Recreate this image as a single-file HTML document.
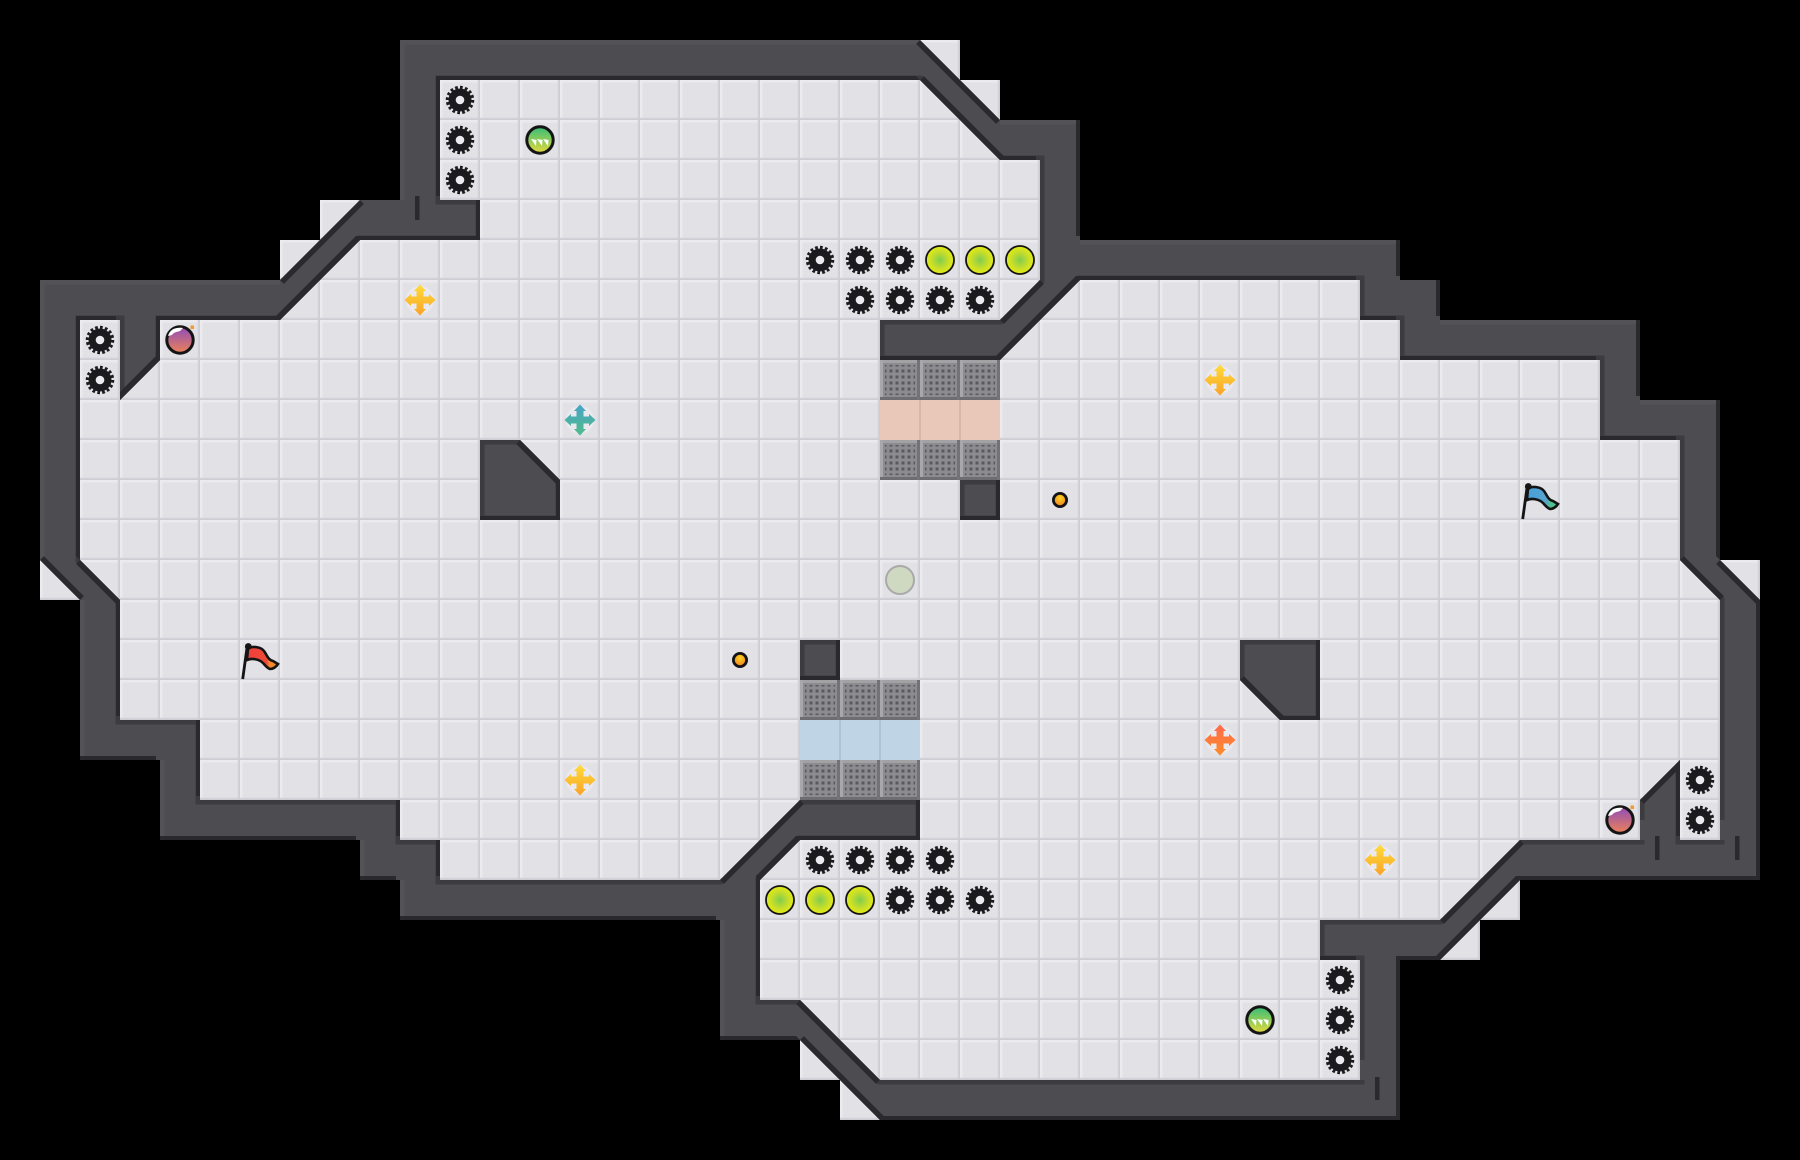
<!DOCTYPE html>
<html><head><meta charset="utf-8"><title>Map</title>
<style>html,body{margin:0;padding:0;background:#000}svg{display:block}</style></head>
<body>
<svg xmlns="http://www.w3.org/2000/svg" width="1800" height="1160" viewBox="0 0 1800 1160">
<defs>
<pattern id="tile" width="40" height="40" patternUnits="userSpaceOnUse">
<rect width="40" height="40" fill="#e1e1e6"/>
<rect x="0" y="0" width="40" height="2.5" fill="#ebebef"/>
<rect x="0" y="0" width="2.5" height="40" fill="#ebebef"/>
<rect x="0" y="37.500" width="40" height="1" fill="#d8d8de"/>
<rect x="37.500" y="0" width="1" height="40" fill="#d8d8de"/>
<rect x="0" y="38.500" width="40" height="1.5" fill="#cdcdd4"/>
<rect x="38.500" y="0" width="1.5" height="40" fill="#cdcdd4"/>
</pattern>
<pattern id="dots" x="2" y="2" width="6" height="6" patternUnits="userSpaceOnUse">
<rect x="1.500" y="1.500" width="3" height="3" fill="#5a5a5e"/>
</pattern>
<g id="grate">
<rect width="40" height="40" fill="#8c8c90"/>
<rect width="40" height="3" fill="#a2a2a5"/>
<rect width="3" height="40" fill="#a8a8ab"/>
<rect y="37" width="40" height="3" fill="#6e6e72"/>
<rect x="37" width="3" height="40" fill="#737377"/>
<rect x="5" y="5" width="30" height="30" fill="url(#dots)"/>
</g>
<g id="gear">
<circle r="11.500" fill="#1b1b1d"/>
<circle r="12" fill="none" stroke="#1b1b1d" stroke-width="4.500" pathLength="16" stroke-dasharray="0.55 0.45"/>
<circle r="4.300" fill="#ececf0"/>
</g>
<radialGradient id="yb"><stop offset="0" stop-color="#80cd50"/><stop offset="0.5" stop-color="#bcdb30"/><stop offset="1" stop-color="#e6ec14"/></radialGradient>
<g id="ball"><circle r="14" fill="url(#yb)" stroke="#141414" stroke-width="1.800"/></g>
<linearGradient id="gb" x1="0" y1="0" x2="0" y2="1"><stop offset="0" stop-color="#35bd78"/><stop offset="1" stop-color="#e6da3c"/></linearGradient>
<g id="gball">
<circle r="13.200" fill="url(#gb)" stroke="#141414" stroke-width="3"/>
<polygon points="-9,-1 -3.500,0 -4,6" fill="#fff"/>
<polygon points="-3,-1 2.500,0 2,6" fill="#fff"/>
<polygon points="3,-1 8.500,0 8,6" fill="#fff"/>
</g>
<linearGradient id="pb" x1="0" y1="0" x2="0" y2="1"><stop offset="0" stop-color="#8f4db8"/><stop offset="1" stop-color="#ec8258"/></linearGradient>
<g id="bomb">
<circle r="13.200" fill="url(#pb)" stroke="#141414" stroke-width="3"/>
<path d="M-12,-4 C-10,-11 -4,-13 3,-12 L0,-9 C-3,-8 -6,-8 -8,-5 Z" fill="#fff"/>
<rect x="10.500" y="-14.500" width="3.500" height="3.500" fill="#f59a2a"/>
</g>
<linearGradient id="cy" gradientUnits="userSpaceOnUse" x1="0" y1="-15" x2="0" y2="15"><stop offset="0" stop-color="#ffdc3a"/><stop offset="1" stop-color="#f9a428"/></linearGradient>
<linearGradient id="ct" gradientUnits="userSpaceOnUse" x1="0" y1="-15" x2="0" y2="15"><stop offset="0" stop-color="#4aa4c6"/><stop offset="1" stop-color="#50bb8c"/></linearGradient>
<linearGradient id="co" gradientUnits="userSpaceOnUse" x1="0" y1="-15" x2="0" y2="15"><stop offset="0" stop-color="#ff6a4c"/><stop offset="1" stop-color="#fb8c2a"/></linearGradient>
<g id="cross">
<circle r="14" fill="#eaeaee"/>
<path d="M-3.500,-9 H-6 L0,-15.500 L6,-9 H3.500 V-3.500 H9 V-6 L15.500,0 L9,6 V3.500 H3.500 V9 H6 L0,15.500 L-6,9 H-3.500 V3.500 H-9 V6 L-15.500,0 L-9,-6 V-3.500 H-3.500 Z"/>
</g>
<radialGradient id="od" cx="0.5" cy="0.35"><stop offset="0" stop-color="#ffd420"/><stop offset="1" stop-color="#f39122"/></radialGradient>
<g id="dot"><circle r="6.600" fill="url(#od)" stroke="#141414" stroke-width="2.800"/></g>
<linearGradient id="fr" gradientUnits="userSpaceOnUse" x1="8" y1="0" x2="38" y2="0"><stop offset="0" stop-color="#ee3f3c"/><stop offset="0.62" stop-color="#ee4a36"/><stop offset="0.72" stop-color="#f58a2c"/><stop offset="1" stop-color="#f58a2c"/></linearGradient>
<linearGradient id="fb" gradientUnits="userSpaceOnUse" x1="8" y1="0" x2="38" y2="0"><stop offset="0" stop-color="#44a0dc"/><stop offset="0.62" stop-color="#58a4cc"/><stop offset="0.72" stop-color="#4fc08e"/><stop offset="1" stop-color="#4fc08e"/></linearGradient>
<g id="flag">
<path d="M8,8 C14,6 21,7 24,11 C27,15 28,20 33,21 L38,24 C36,27 33,29 30,29 C27,28 25,25 23,23 C19,19 12,18 7,20 Z" stroke="#141414" stroke-width="2.600"/>
<path d="M7,8 L2.700,39" stroke="#141414" stroke-width="2.800" fill="none"/>
<circle cx="8.300" cy="6.500" r="3.400" fill="#141414"/>
</g>
<clipPath id="wc"><path clip-rule="evenodd" d="M400 40H920L1000 120H1080V240H1400V280H1440V320H1640V400H1720V560L1760 600V880H1520L1440 960H1400V1120H880L800 1040H720V920H400V880H360V840H160V760H80V600L40 560V280H280L360 200H400Z
M440 80H920L1000 160H1040V280L1000 320H880V360H1000L1080 280H1360V320H1400V360H1600V440H1680V560L1720 600V840H1680V760L1640 800V840H1520L1440 920H1320V960H1360V1080H880L800 1000H760V880L800 840H920V800H800L720 880H440V840H400V800H200V720H120V600L80 560V320H120V400L160 360V320H280L360 240H480V200H440Z
M480 440H520L560 480V520H480Z M960 480H1000V520H960Z M800 640H840V680H800Z M1240 640H1320V720H1280L1240 680Z"/></clipPath>
</defs>

<rect width="1800" height="1160" fill="#000"/>
<!-- floor -->
<path fill="url(#tile)" d="M400 40H920L1000 120H1080V240H1400V280H1440V320H1640V400H1720V560L1760 600V880H1520L1440 960H1400V1120H880L800 1040H720V920H400V880H360V840H160V760H80V600L40 560V280H280L360 200H400Z
M920 40H960V80Z M960 80H1000V120Z M1720 560H1760V600Z M1520 880V920H1480Z M1480 920V960H1440Z M800 1040V1080H840Z M840 1080V1120H880Z M40 560V600H80Z M280 240H320L280 280Z M320 200H360L320 240Z"/>

<!-- coloured strips -->
<rect x="880" y="400" width="120" height="40" fill="#e9c7b9"/>
<path d="M919 400h2v40h-2zM959 400h2v40h-2z" fill="#d9b6a8"/>
<rect x="800" y="720" width="120" height="40" fill="#bfd5e5"/>
<path d="M839 720h2v40h-2zM879 720h2v40h-2z" fill="#aec5d6"/>
<use href="#grate" x="880" y="360"/><use href="#grate" x="920" y="360"/><use href="#grate" x="960" y="360"/>
<use href="#grate" x="880" y="440"/><use href="#grate" x="920" y="440"/><use href="#grate" x="960" y="440"/>
<use href="#grate" x="800" y="680"/><use href="#grate" x="840" y="680"/><use href="#grate" x="880" y="680"/>
<use href="#grate" x="800" y="760"/><use href="#grate" x="840" y="760"/><use href="#grate" x="880" y="760"/>

<!-- walls -->
<g clip-path="url(#wc)">
<rect width="1800" height="1160" fill="#4c4c51"/>
<path fill="none" stroke="#3b3b40" stroke-width="9" d="M440 80H920L1000 160H1040V280L1000 320H880V360H1000L1080 280H1360V320H1400V360H1600V440H1680V560L1720 600V840H1680V760L1640 800V840H1520L1440 920H1320V960H1360V1080H880L800 1000H760V880L800 840H920V800H800L720 880H440V840H400V800H200V720H120V600L80 560V320H120V400L160 360V320H280L360 240H480V200H440Z
M480 440H520L560 480V520H480Z M960 480H1000V520H960Z M800 640H840V680H800Z M1240 640H1320V720H1280L1240 680Z"/>
<path fill="none" stroke="#525257" stroke-width="9" d="M40 560V280H280M400 200V40H920M1080 120H1000M1080 240H1400M1440 320H1640M1640 400H1720M1760 600V880M160 840V760M80 760V600M360 880V840M400 920V880M720 1040V920"/>
<path fill="#29292e" fill-rule="evenodd" transform="translate(-4,-4)" d="M-10 -10H1820V1180H-10Z M400 40H920L1000 120H1080V240H1400V280H1440V320H1640V400H1720V560L1760 600V880H1520L1440 960H1400V1120H880L800 1040H720V920H400V880H360V840H160V760H80V600L40 560V280H280L360 200H400Z
M440 80H920L1000 160H1040V280L1000 320H880V360H1000L1080 280H1360V320H1400V360H1600V440H1680V560L1720 600V840H1680V760L1640 800V840H1520L1440 920H1320V960H1360V1080H880L800 1000H760V880L800 840H920V800H800L720 880H440V840H400V800H200V720H120V600L80 560V320H120V400L160 360V320H280L360 240H480V200H440Z
M480 440H520L560 480V520H480Z M960 480H1000V520H960Z M800 640H840V680H800Z M1240 640H1320V720H1280L1240 680Z"/>
<!-- diagonal edges -->
<path fill="none" stroke="#29292e" stroke-width="11" d="M920 40L1000 120M920 80L1000 160M1040 280L1000 320M1000 360L1080 280M1680 560L1720 600M1720 560L1760 600M1680 760L1640 800M1520 880L1440 960M1520 840L1440 920M800 1040L880 1120M800 1000L880 1080M760 880L800 840M800 800L720 880M80 600L40 560M80 560L120 600M120 400L160 360M280 280L360 200M280 320L360 240M520 440L560 480M1240 680L1280 720"/>
<!-- base patches and ticks -->
<path fill="#4c4c51" d="M1720 820h5v20h-5zM1640 820h5v20h-5zM1360 1060h5v20h-5z"/>
<path fill="#29292e" d="M415 196h4.500v24h-4.500zM1655 836h4.500v24h-4.500zM1735 836h4.500v24h-4.500zM1375 1077h4.500v23h-4.500z"/>
</g>

<!-- gears -->
<use href="#gear" x="460" y="100"/><use href="#gear" x="460" y="140"/><use href="#gear" x="460" y="180"/>
<use href="#gear" x="820" y="260"/><use href="#gear" x="860" y="260"/><use href="#gear" x="900" y="260"/>
<use href="#gear" x="860" y="300"/><use href="#gear" x="900" y="300"/><use href="#gear" x="940" y="300"/><use href="#gear" x="980" y="300"/>
<use href="#gear" x="100" y="340"/><use href="#gear" x="100" y="380"/>
<use href="#gear" x="1700" y="780"/><use href="#gear" x="1700" y="820"/>
<use href="#gear" x="820" y="860"/><use href="#gear" x="860" y="860"/><use href="#gear" x="900" y="860"/><use href="#gear" x="940" y="860"/>
<use href="#gear" x="900" y="900"/><use href="#gear" x="940" y="900"/><use href="#gear" x="980" y="900"/>
<use href="#gear" x="1340" y="980"/><use href="#gear" x="1340" y="1020"/><use href="#gear" x="1340" y="1060"/>
<!-- balls -->
<use href="#ball" x="940" y="260"/><use href="#ball" x="980" y="260"/><use href="#ball" x="1020" y="260"/>
<use href="#ball" x="780" y="900"/><use href="#ball" x="820" y="900"/><use href="#ball" x="860" y="900"/>
<use href="#gball" x="540" y="140"/><use href="#gball" x="1260" y="1020"/>
<use href="#bomb" x="180" y="340"/><use href="#bomb" x="1620" y="820"/>
<!-- crosses -->
<use href="#cross" x="420" y="300" fill="url(#cy)"/>
<use href="#cross" x="580" y="420" fill="url(#ct)"/>
<use href="#cross" x="1220" y="380" fill="url(#cy)"/>
<use href="#cross" x="1220" y="740" fill="url(#co)"/>
<use href="#cross" x="580" y="780" fill="url(#cy)"/>
<use href="#cross" x="1380" y="860" fill="url(#cy)"/>
<!-- small -->
<use href="#dot" x="1060" y="500"/><use href="#dot" x="740" y="660"/>
<circle cx="900" cy="580" r="14" fill="#cfd8c0" stroke="#a9a9a9" stroke-width="2"/>
<use href="#flag" x="240" y="640" fill="url(#fr)"/>
<use href="#flag" x="1520" y="480" fill="url(#fb)"/>
</svg>
</body></html>
